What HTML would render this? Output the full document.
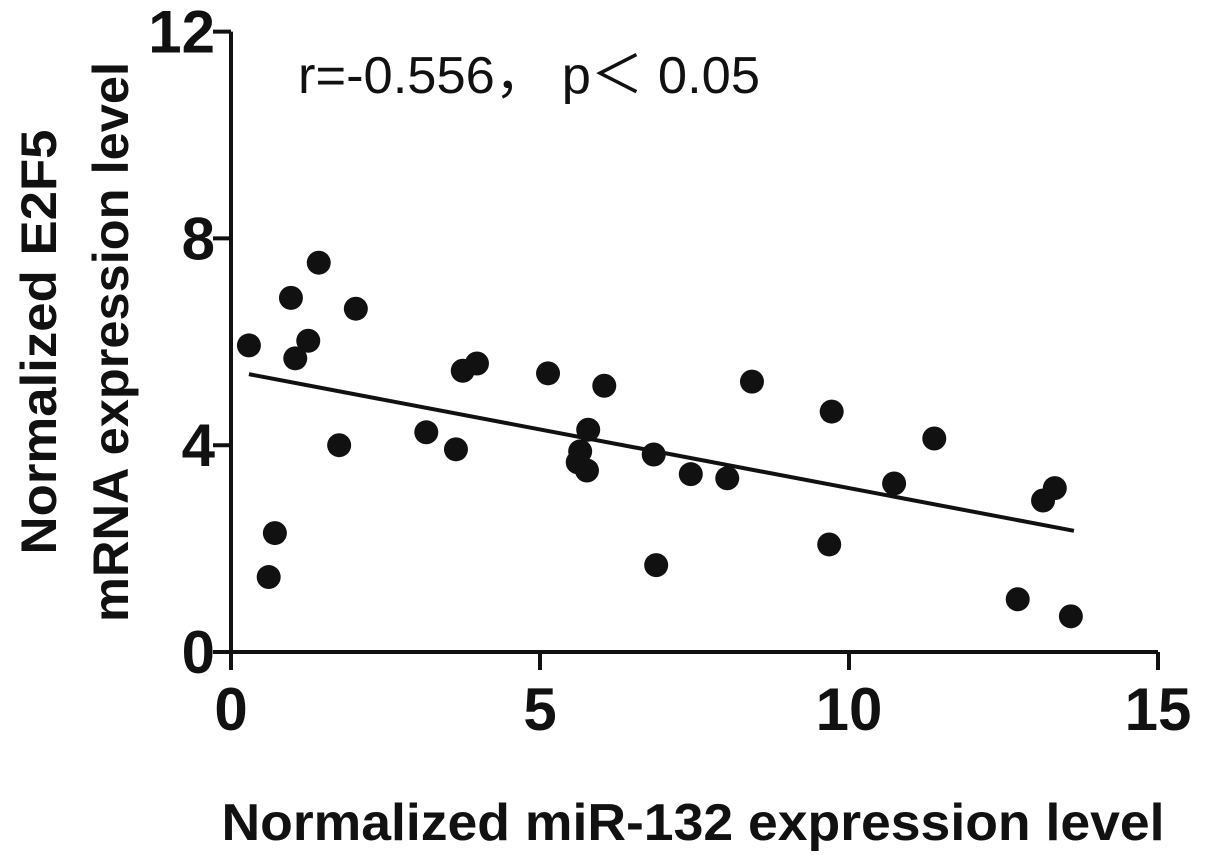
<!DOCTYPE html>
<html><head><meta charset="utf-8"><style>
html,body{margin:0;padding:0;background:#fff;}
svg{display:block;font-family:"Liberation Sans",Arial,sans-serif;}
</style></head><body>
<svg id="chart" width="1205" height="855" viewBox="0 0 1205 855">
<g id="axes"></g>
<g id="fit"></g>
<g id="dots"></g>
<text x="298" y="93" font-size="52" fill="#111" textLength="462" lengthAdjust="spacingAndGlyphs">r=-0.556，  p＜ 0.05</text>
<text x="693" y="840" font-size="52" font-weight="bold" text-anchor="middle" fill="#111" textLength="943" lengthAdjust="spacingAndGlyphs">Normalized miR-132 expression level</text>
<g transform="translate(56,342) rotate(-90)">
<text x="0" y="0" font-size="50" font-weight="bold" text-anchor="middle" fill="#111" textLength="425" lengthAdjust="spacingAndGlyphs">Normalized E2F5</text>
<text x="0" y="72" font-size="50" font-weight="bold" text-anchor="middle" fill="#111" textLength="560" lengthAdjust="spacingAndGlyphs">mRNA expression level</text>
</g>
</svg>
<script>
const xValues=[0.29,0.61,0.71,0.97,1.04,1.25,1.42,1.75,2.02,3.16,3.64,3.75,3.98,5.13,5.61,5.65,5.78,5.76,6.04,6.84,6.88,7.44,8.03,8.43,9.72,9.68,10.73,11.38,12.73,13.14,13.33,13.59];
const yValues=[5.93,1.45,2.30,6.85,5.68,6.02,7.53,4.0,6.64,4.25,3.92,5.44,5.58,5.39,3.67,3.88,4.30,3.51,5.15,3.82,1.68,3.44,3.36,5.23,4.65,2.08,3.26,4.13,1.02,2.93,3.17,0.69];
const xTicks=[0,5,10,15];
const yTicks=[0,4,8,12];
const fitSlope=-0.227;
const fitIntercept=5.44;
const NS="http://www.w3.org/2000/svg";
const X0=231,XS=61.8,Y0=652,YS=51.7;
const sx=v=>X0+v*XS, sy=v=>Y0-v*YS;
function mk(tag,attrs,parent){const e=document.createElementNS(NS,tag);for(const k in attrs)e.setAttribute(k,attrs[k]);parent.appendChild(e);return e;}
const axes=document.getElementById('axes');
let l=mk('line',{x1:X0,y1:Y0,x2:sx(15),y2:Y0,stroke:'#111','stroke-width':4},axes);


l=mk('line',{x1:X0,y1:Y0,x2:X0,y2:sy(12),stroke:'#111','stroke-width':4},axes);


xTicks.forEach(t=>{
 const tk=mk('line',{x1:sx(t),y1:Y0,x2:sx(t),y2:Y0+18,stroke:'#111','stroke-width':4},axes);
 
 
 const tx=mk('text',{x:sx(t),y:Y0+78,'font-size':60,'font-weight':'bold','text-anchor':'middle',fill:'#111'},axes);
 tx.textContent=t;
 
 
});
yTicks.forEach(t=>{
 const tk=mk('line',{x1:X0-18,y1:sy(t),x2:X0,y2:sy(t),stroke:'#111','stroke-width':4},axes);
 
 
 const tx=mk('text',{x:X0-16,y:sy(t)+21,'font-size':60,'font-weight':'bold','text-anchor':'end',fill:'#111'},axes);
 tx.textContent=t;
 
 
});
const xmin=Math.min(...xValues),xmax=Math.max(...xValues);
const fl=mk('line',{x1:sx(xmin),y1:sy(fitIntercept+fitSlope*xmin),x2:sx(xmax+0.05),y2:sy(fitIntercept+fitSlope*(xmax+0.05)),stroke:'#111','stroke-width':4},document.getElementById('fit'));


const dots=document.getElementById('dots');
xValues.forEach((x,i)=>{
 const c=mk('circle',{cx:sx(x),cy:sy(yValues[i]),r:12,fill:'#111'},dots);
 
 
});
</script>
</body></html>
